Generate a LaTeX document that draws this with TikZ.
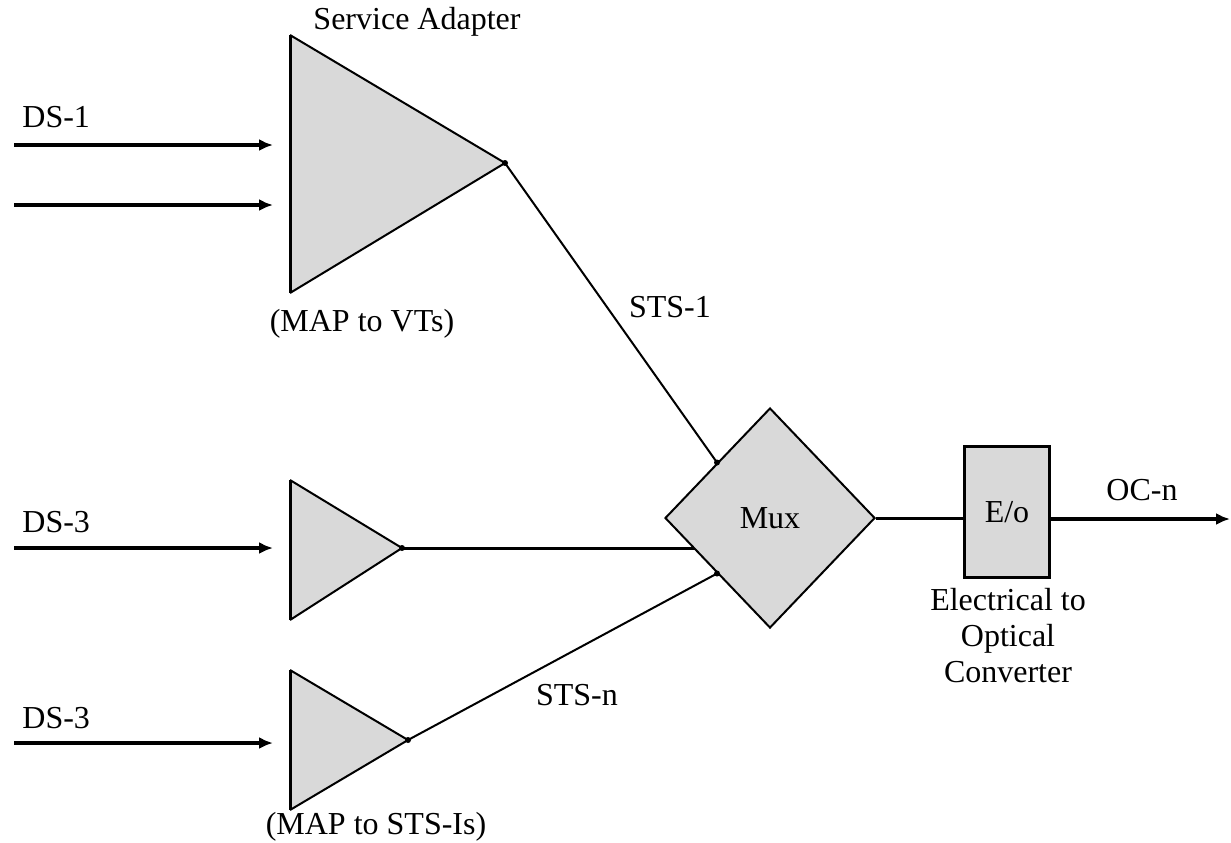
\documentclass[tikz,border=0pt]{standalone}
\usepackage{fontspec}
\setmainfont{Liberation Serif}
\usetikzlibrary{shapes.geometric,arrows.meta,backgrounds}
\definecolor{boxgray}{RGB}{217,217,217}
\begin{document}
\begin{tikzpicture}[x=0.5pt,y=-0.5pt,
  lbl/.style={inner sep=0pt,font=\fontsize{16}{19}\selectfont},
  wire/.style={line width=1.5pt},
  thinwire/.style={line width=1pt},
  sig/.style={line width=1.8pt,-{Latex[length=7pt,width=6pt]}},
  edge/.style={draw=black,line width=1pt},
  thickedge/.style={draw=black,line width=1.5pt},
  jdot/.style={fill=black},
]
\useasboundingbox (0,0) rectangle (1231,842);

% service adapter triangles
\coordinate (A1) at (290,35);  \coordinate (B1) at (290,293); \coordinate (C1) at (505,163);
\coordinate (A2) at (290,480); \coordinate (B2) at (290,620); \coordinate (C2) at (402,548);
\coordinate (A3) at (290,670); \coordinate (B3) at (290,810); \coordinate (C3) at (408,740);
\foreach \i in {1,2,3}{
  \fill[boxgray] (A\i) -- (C\i) -- (B\i) -- cycle;
  \draw[edge] (A\i) -- (C\i) -- (B\i);
  \draw[thickedge] (A\i) -- (B\i);
}

% mux and converter
\node[diamond,draw,fill=boxgray,line width=1pt,inner sep=0pt,
      minimum width=105pt,minimum height=110pt,font=\fontsize{16}{19}\selectfont] (mux) at (770,518) {Mux};
\node[rectangle,draw,fill=boxgray,line width=1.7pt,inner sep=0pt,
      minimum width=42.5pt,minimum height=65.5pt,font=\fontsize{16}{19}\selectfont] (eo) at (1007,512) {E/o};

% inputs
\coordinate (i1s) at (14,145); \coordinate (i1e) at (273,145);
\coordinate (i2s) at (14,205); \coordinate (i2e) at (273,205);
\coordinate (i3s) at (14,548); \coordinate (i3e) at (273,548);
\coordinate (i4s) at (14,743); \coordinate (i4e) at (273,743);
\foreach \i in {1,2,3,4}{ \draw[sig] (i\i s) -- (i\i e); }

% connectors
\draw[thinwire] (C1) -- (mux.north west);
\begin{scope}[on background layer]
  \draw[wire] (C2) -- (C2 -| mux.center);
\end{scope}
\draw[thinwire] (C3) -- (mux.south west);
\draw[wire] (mux.east) -- (mux.east -| eo.west);
\coordinate (out) at (1230,519);
\draw[sig] (eo.east |- out) -- (out);

% junction dots
\foreach \p in {C1,C2,C3,mux.north west,mux.south west}{ \fill[jdot] (\p) circle (3); }

% labels
\node[lbl] (sa) at (417,22) {Service Adapter};
\node[lbl,anchor=west] (ds1) at (22,117) {DS-1};
\node[lbl] (vt) at (362,324) {(MAP to VTs)};
\node[lbl] (sts1) at (670,307) {STS-1};
\node[lbl,anchor=west] (ds3a) at (22,522) {DS-3};
\node[lbl,anchor=west] (ds3b) at (22,718) {DS-3};
\node[lbl] (stsn) at (577,695) {STS-n};
\node[lbl] (sts1s) at (376,827) {(MAP to STS-Is)};
\node[lbl] (ocn) at (1142,490) {OC-n};
\node[lbl,align=center,font=\fontsize{16}{18}\selectfont,anchor=north] (conv) at (1008,588) {Electrical to\\Optical\\Converter};
\end{tikzpicture}
\end{document}
